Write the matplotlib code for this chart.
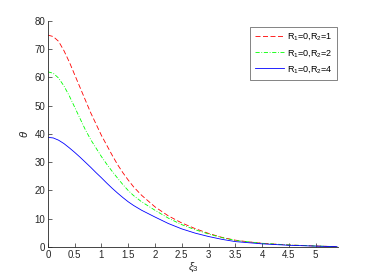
import matplotlib
matplotlib.use("Agg")
import matplotlib.pyplot as plt

plt.rcParams['font.family'] = ['Liberation Sans', 'DejaVu Sans']
plt.rcParams['mathtext.fontset'] = 'custom'
plt.rcParams['mathtext.rm'] = 'Liberation Sans'
plt.rcParams['mathtext.it'] = 'Liberation Sans:italic'

xi = [0, 0.1, 0.2, 0.3, 0.4, 0.5, 0.6, 0.7, 0.8, 0.9, 1.0, 1.1, 1.2, 1.3, 1.4,
      1.5, 1.6, 1.75, 2.0, 2.25, 2.5, 2.75, 3.0, 3.25, 3.5, 3.75, 4.0, 4.5,
      5.0, 5.4]
theta_r2_1 = [75, 74.5, 72.8, 69.5, 65.5, 61, 56.5, 52, 47.5, 43.5, 39.5, 36,
              32.5, 29.2, 26.3, 23.7, 21.3, 18.3, 14.2, 11, 8.5, 6.5, 4.8, 3.4,
              2.4, 1.8, 1.3, 0.7, 0.35, 0.1]
theta_r2_2 = [62, 61.5, 59.8, 57, 53.5, 49.5, 45.5, 41.5, 38, 35, 32, 29.3,
              26.8, 24.4, 22.1, 20, 18.2, 16, 13, 10.2, 7.9, 6.1, 4.6, 3.3,
              2.3, 1.8, 1.3, 0.7, 0.35, 0.1]
theta_r2_4 = [38.8, 38.6, 37.8, 36.6, 35.1, 33.5, 31.8, 30, 28.2, 26.3, 24.5,
              22.6, 20.8, 19.1, 17.5, 16, 14.7, 13, 10.6, 8.3, 6.4, 4.9, 3.7,
              2.7, 1.9, 1.5, 1.1, 0.6, 0.3, 0.1]
labels = ['R$_1$=0,R$_2$=1', 'R$_1$=0,R$_2$=2', 'R$_1$=0,R$_2$=4']
xticks = [0, 0.5, 1, 1.5, 2, 2.5, 3, 3.5, 4, 4.5, 5]
xticklabels = ['0', '0.5', '1', '1.5', '2', '2.5', '3', '3.5', '4', '4.5', '5']
yticks = [0, 10, 20, 30, 40, 50, 60, 70, 80]

fig = plt.figure(figsize=(3.74, 2.80), dpi=100)
ax = fig.add_axes([0.128, 0.118, 0.776, 0.807])

ax.plot(xi, theta_r2_1, color=(1, 0, 0), ls=(0, (6, 3)), lw=0.6, label=labels[0])
ax.plot(xi, theta_r2_2, color=(0, 1, 0), ls=(0, (5, 2, 1, 2)), lw=0.6, label=labels[1])
ax.plot(xi, theta_r2_4, color=(0, 0, 1), ls='-', lw=0.6, label=labels[2])

ax.set_xlim(0, 5.42)
ax.set_ylim(0, 80)
ax.set_xticks(xticks)
ax.set_xticklabels(xticklabels)
ax.set_yticks(yticks)

for s in ['top', 'right']:
    ax.spines[s].set_visible(False)
for s in ['left', 'bottom']:
    ax.spines[s].set_color('#262626')
    ax.spines[s].set_linewidth(0.6)
ax.tick_params(direction='in', length=3, width=0.5, colors='#262626',
               labelsize=7, pad=2)

ax.set_xlabel(r'$\xi_3$', fontsize=8, color='#262626', labelpad=1)
ax.set_ylabel(r'$\theta$', fontsize=8, color='#262626', labelpad=3)

leg = ax.legend(loc='upper right', bbox_to_anchor=(0.997, 0.975), fontsize=6.5,
                frameon=True, fancybox=False, handlelength=3.2,
                borderpad=0.5, labelspacing=0.6, handletextpad=0.4,
                borderaxespad=0)
leg.get_frame().set_edgecolor('#262626')
leg.get_frame().set_linewidth(0.5)

fig.savefig('out.png', dpi=100)
